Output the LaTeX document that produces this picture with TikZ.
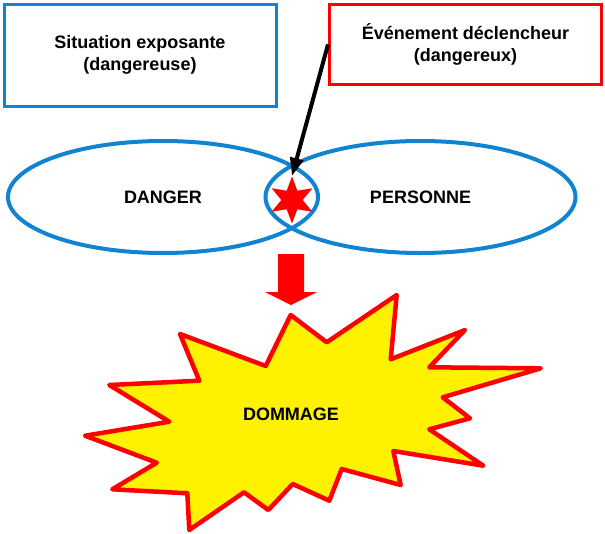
\documentclass[tikz,border=0pt]{standalone}
\usepackage{fontspec}
\setmainfont{Liberation Sans}
\usepackage{tikz}
\usetikzlibrary{shapes.geometric}
\usetikzlibrary{arrows.meta}
\definecolor{zoneblue}{RGB}{16,132,208}
\tikzset{frame/.style={rectangle, draw, line width=3pt, inner sep=0pt, align=center,
    font=\fontsize{18}{22}\selectfont\bfseries}}
\tikzset{zone/.style={ellipse, draw=zoneblue, line width=4pt, inner sep=0pt,
    minimum width=310pt, minimum height=112pt, font=\fontsize{18}{22}\selectfont\bfseries}}
\tikzset{burst/.style={draw=red, fill=yellow, line width=4.5pt, line join=round}}

\begin{document}
\begin{tikzpicture}[x=1pt,y=-1pt]
  \useasboundingbox (0,0) rectangle (605,533);
  \node[frame, draw=zoneblue, minimum width=272pt, minimum height=102pt] (situ) at (140,55)
    {Situation exposante\\(dangereuse)};
  \node[frame, draw=red, minimum width=272pt, minimum height=80pt] (evt) at (465.5,44.5)
    {Événement déclencheur\\(dangereux)};
  % burst outline
  \foreach \n/\x/\y in {
    1/290.7/315, 2/326.7/342.3, 3/396.7/295, 4/390.7/359.3,
    5/465/330, 6/429.3/367.3, 7/540.7/368.3, 8/442.7/397.3,
    9/470/418.3, 10/429.3/429.3, 11/483.3/465.7, 12/393.3/451,
    13/400.7/485, 14/341.7/469, 15/329.3/500.7, 16/292.7/484,
    17/268.3/510, 18/244/492.3, 19/189.3/530, 20/187.3/493.3,
    21/112.3/489.3, 22/156.7/462.7, 23/85/435.7, 24/169.3/421.7,
    25/109.3/385, 26/199.3/380.7, 27/180/334, 28/265.7/366%
  } {
    \coordinate (b\n) at (\x,\y);
  }
  \draw[burst] (b1) \foreach \n in {2,...,28}{ -- (b\n)} -- cycle;
  \node[font=\fontsize{18}{22}\selectfont\bfseries] (dommage) at (291,414) {DOMMAGE};
  \node[zone] (danger) at (163,197) {DANGER};
  \node[zone] (personne) at (420.5,197) {PERSONNE};
  \node[star, star points=6, star point ratio=2.2, fill=red, inner sep=0pt,
    minimum size=47pt] (spark) at (292,200) {};
  \draw[line width=4pt, -{Triangle[length=18pt, width=13pt]}] (evt.west) -- (spark.north);
  % block arrow
  \coordinate (drop) at (291,254);
  \fill[red] (drop) ++(-13,0) -- ++(26,0) -- ++(0,38) -- ++(13,0) -- ++(-26,13)
    -- ++(-26,-13) -- ++(13,0) -- cycle;
\end{tikzpicture}
\end{document}
